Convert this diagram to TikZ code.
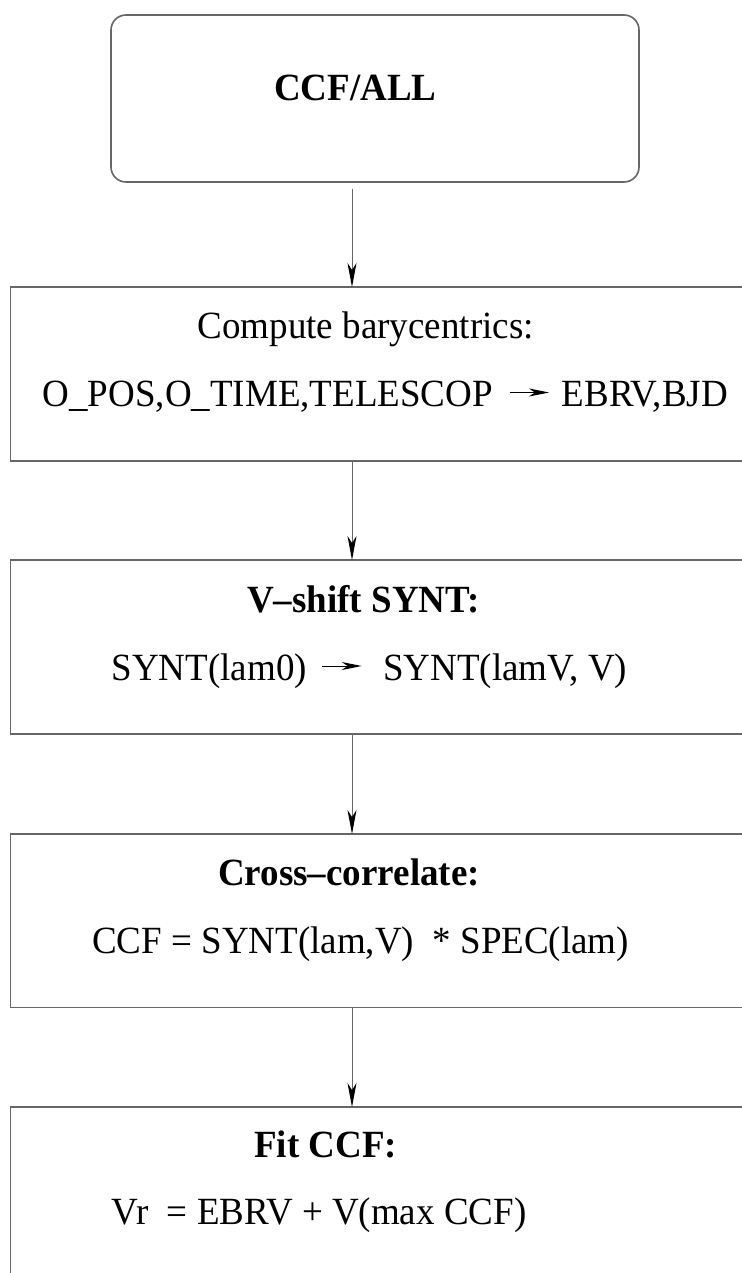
\documentclass[tikz,border=0pt]{standalone}
\usepackage{fontspec}
\setmainfont{Liberation Serif}[FakeStretch=0.961]
\usetikzlibrary{arrows.meta}
\definecolor{linegray}{gray}{0.4}
\begin{document}
\begin{tikzpicture}[x=1pt,y=-1pt,
  box/.style={draw=linegray,line width=1.6pt,inner sep=0pt,outer sep=0pt,anchor=north west},
  conn/.style={draw=linegray,line width=1pt,-{Stealth[length=24pt,width=9pt,inset=7pt,black]}},
  tarrow/.style={draw=black,line width=1pt,-{Stealth[length=20pt,width=8pt,inset=6pt]}},
  txt/.style={anchor=base west,inner sep=0pt,font=\fontsize{38.5pt}{46pt}\selectfont},
  head/.style={txt,font=\fontsize{38.5pt}{46pt}\selectfont\bfseries}]
\useasboundingbox (0,0) rectangle (741,1273);
% boxes
\node[box,rounded corners=15pt,minimum width=528pt,minimum height=167pt] (b1) at (111,15) {};
\node[box,minimum width=800pt,minimum height=174pt] (b2) at (10.5,287) {};
\node[box,minimum width=800pt,minimum height=174pt] (b3) at (10.5,560) {};
\node[box,minimum width=800pt,minimum height=173.5pt] (b4) at (10.5,834) {};
\node[box,minimum width=800pt,minimum height=250pt] (b5) at (10.5,1107) {};
% connectors
\coordinate (ax) at (352,0);
\draw[conn,shorten <=6.6pt] (b1.south -| ax) -- (b2.north -| ax);
\draw[conn] (b2.south -| ax) -- (b3.north -| ax);
\draw[conn] (b3.south -| ax) -- (b4.north -| ax);
\draw[conn] (b4.south -| ax) -- (b5.north -| ax);
% texts
\node[head] (t1) at (274,101) {CCF/ALL};
\node[txt] (t2) at (197.5,338.6) {Compute barycentrics:};
\node[txt] (t2a) at (42.5,406) {O\_POS,O\_TIME,TELESCOP};
\node[txt] (t2b) at (561.7,406) {EBRV,BJD};
\draw[tarrow] ([xshift=16.5pt,yshift=13.5pt]t2a.base east) -- ([xshift=-12.7pt,yshift=13.5pt]t2b.base west);
\node[head] (t3) at (247,612) {V–shift SYNT:};
\node[txt] (t3a) at (111.5,680) {SYNT(lam0)};
\node[txt] (t3b) at (383,680) {SYNT(lamV, V)};
\draw[tarrow] ([xshift=15pt,yshift=14pt]t3a.base east) -- ([xshift=-21.3pt,yshift=14pt]t3b.base west);
\node[head] (t4) at (218,885) {Cross–correlate:};
\node[txt] (t4a) at (92,953) {CCF = SYNT(lam,V)\ \ * SPEC(lam)};
\node[head] (t5) at (254,1157) {Fit CCF:};
\node[txt] (t5a) at (111.5,1224.5) {Vr\ \ = EBRV + V(max CCF)};
\end{tikzpicture}
\end{document}
